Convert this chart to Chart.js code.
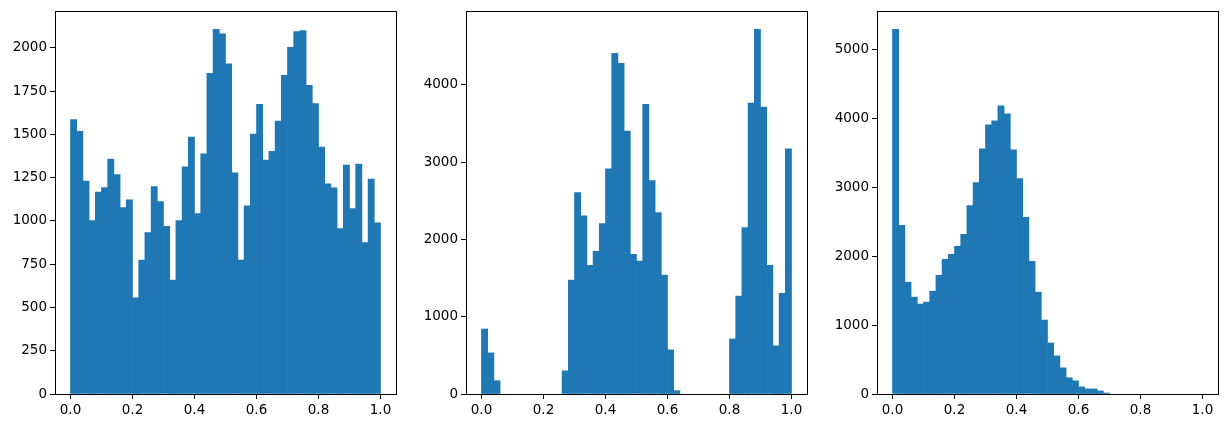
<!DOCTYPE html>
<html>
<head>
<meta charset="utf-8">
<script src="https://cdn.jsdelivr.net/npm/chart.js@4/dist/chart.umd.min.js"></script>
<style>
  body { margin: 0; background: #fff; }
  #wrap { position: relative; width: 1227px; height: 428px; }
  .panel { position: absolute; top: 0; width: 395px; height: 428px; }
</style>
</head>
<body>
<div id="wrap">
  <div class="panel" style="left:5px"><canvas id="c1"></canvas></div>
  <div class="panel" style="left:416px"><canvas id="c2"></canvas></div>
  <div class="panel" style="left:827px"><canvas id="c3"></canvas></div>
</div>
<script>
// 50 bins of width 0.02 between 0 and 1
const binCount = 50;
const xTicks = [0, 0.2, 0.4, 0.6, 0.8, 1.0];
const xTickLabels = ["0.0", "0.2", "0.4", "0.6", "0.8", "1.0"];

const counts1 = [1585, 1518, 1230, 1002, 1167, 1192, 1357, 1267, 1077, 1122,
  556, 773, 933, 1198, 1111, 968, 658, 1002, 1312, 1484,
  1043, 1387, 1852, 2106, 2081, 1908, 1278, 773, 1087, 1501,
  1673, 1352, 1402, 1576, 1841, 2002, 2094, 2099, 1783, 1678,
  1427, 1214, 1191, 956, 1322, 1071, 1328, 875, 1242, 989];

const counts2 = [841, 532, 172, 0, 0, 0, 0, 0, 0, 0,
  0, 0, 0, 300, 1473, 2604, 2304, 1664, 1844, 2204,
  2912, 4406, 4277, 3402, 1806, 1718, 3746, 2760, 2346, 1537,
  571, 43, 0, 0, 0, 0, 0, 0, 0, 0,
  712, 1266, 2154, 3762, 4717, 3711, 1665, 622, 1304, 3170];

const counts3 = [5300, 2450, 1625, 1408, 1308, 1336, 1494, 1726, 1957, 2031,
  2146, 2320, 2740, 3072, 3565, 3912, 3970, 4187, 4072, 3550,
  3131, 2567, 1930, 1480, 1075, 742, 554, 380, 236, 192,
  104, 74, 74, 45, 15, 0, 0, 0, 0, 0,
  0, 0, 0, 0, 0, 0, 0, 0, 0, 0];

const yTicks1 = [0, 250, 500, 750, 1000, 1250, 1500, 1750, 2000];
const yTicks2 = [0, 1000, 2000, 3000, 4000];
const yTicks3 = [0, 1000, 2000, 3000, 4000, 5000];

const barColor = "#1f77b4";
const fontSpec = { family: "'DejaVu Sans', sans-serif", size: 13.5 };

const framePlugin = {
  id: "frame",
  afterDraw(chart) {
    const a = chart.chartArea;
    const ctx = chart.ctx;
    ctx.save();
    ctx.strokeStyle = "#000";
    ctx.lineWidth = 1;
    ctx.strokeRect(Math.round(a.left) + 0.5, Math.round(a.top) + 0.5,
      Math.round(a.right - a.left), Math.round(a.bottom - a.top));
    ctx.restore();
  }
};

function drawHist(id, counts, yTicks, yMax) {
  // empty bins are left out so no hairline is drawn for them
  const points = counts.map((c, i) => ({ x: (i + 0.5) / binCount, y: c === 0 ? null : c }));
  new Chart(document.getElementById(id), {
    type: "bar",
    data: {
      datasets: [{
        data: points,
        backgroundColor: barColor,
        borderWidth: 0,
        barPercentage: 1,
        categoryPercentage: 1
      }]
    },
    options: {
      responsive: true,
      maintainAspectRatio: false,
      animation: false,
      layout: { padding: { top: 10, right: 4, left: 0, bottom: 0 } },
      plugins: { legend: { display: false }, tooltip: { enabled: false } },
      scales: {
        x: {
          type: "linear",
          min: -0.05,
          max: 1.05,
          offset: false,
          afterBuildTicks: (s) => { s.ticks = xTicks.map(v => ({ value: v })); },
          afterFit: (s) => { s.height = 34; },
          border: { display: false },
          grid: { display: true, offset: false, drawOnChartArea: false, drawTicks: true, tickLength: 5, color: "#000" },
          ticks: {
            color: "#000",
            font: fontSpec,
            padding: 3,
            maxRotation: 0,
            callback: (v) => xTickLabels[xTicks.indexOf(v)] ?? ""
          }
        },
        y: {
          min: 0,
          max: yMax,
          afterBuildTicks: (s) => { s.ticks = yTicks.map(v => ({ value: v })); },
          afterFit: (s) => { s.width = 50; },
          border: { display: false },
          grid: { display: true, offset: false, drawOnChartArea: false, drawTicks: true, tickLength: 5, color: "#000" },
          ticks: { color: "#000", font: fontSpec, padding: 3, callback: (v) => String(v) }
        }
      }
    },
    plugins: [framePlugin]
  });
}

drawHist("c1", counts1, yTicks1, 2212);
drawHist("c2", counts2, yTicks2, 4953);
drawHist("c3", counts3, yTicks3, 5565);
</script>
</body>
</html>
